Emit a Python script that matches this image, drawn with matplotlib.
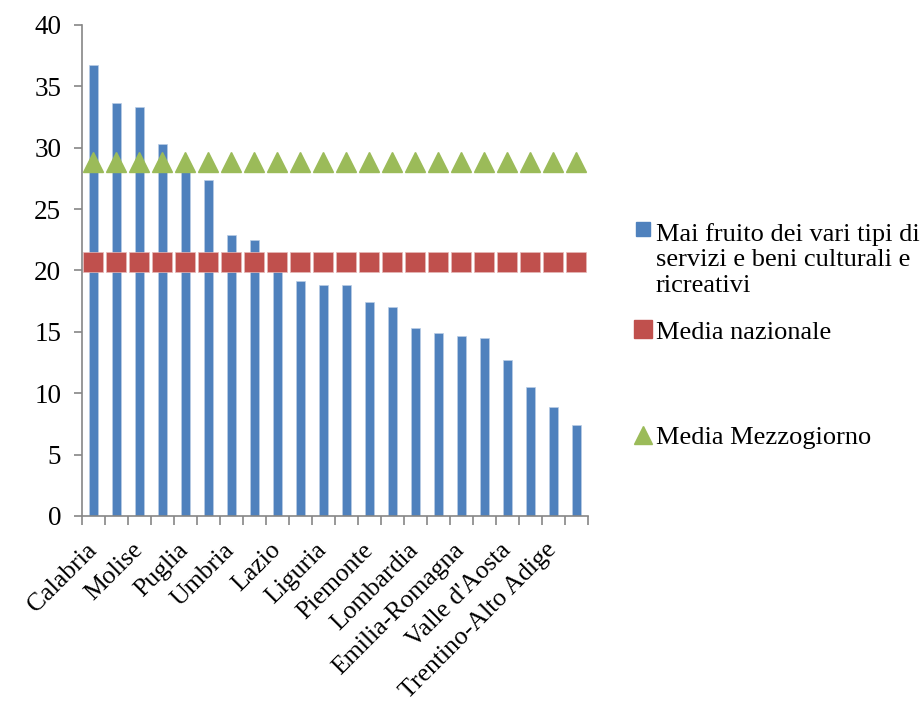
import numpy as np
import matplotlib.pyplot as plt
from matplotlib.lines import Line2D
from matplotlib.legend_handler import HandlerBase

plt.rcParams['font.family'] = ['Liberation Serif', 'DejaVu Serif']

# Regions sorted by share of people who never used cultural/recreational services
regioni = ['Calabria', 'Sicilia', 'Molise', 'Campania', 'Puglia', 'Basilicata',
           'Umbria', 'Sardegna', 'Lazio', 'Abruzzo', 'Liguria', 'Marche',
           'Piemonte', 'Toscana', 'Lombardia', 'Friuli-Venezia Giulia',
           'Emilia-Romagna', 'Veneto', "Valle d'Aosta", 'Bolzano',
           'Trentino-Alto Adige', 'Trento']
mai_fruito = [36.7, 33.6, 33.3, 30.3, 28.5, 27.4, 22.9, 22.5, 20.6, 19.1, 18.8,
              18.8, 17.4, 17.0, 15.3, 14.9, 14.7, 14.5, 12.7, 10.5, 8.9, 7.4]
media_nazionale = [20.7] * len(regioni)
media_mezzogiorno = [28.8] * len(regioni)

blu, rosso, verde = '#4F81BD', '#C0504D', '#9BBB59'
grigio = '#868686'
fs = 19.5


class TopLineHandler(HandlerBase):
    # puts the legend marker next to the first line of a multi-line label
    def __init__(self, shift):
        super().__init__()
        self.shift = shift

    def create_artists(self, legend, orig_handle, xdescent, ydescent,
                       width, height, fontsize, trans):
        m = Line2D([width / 2 - xdescent], [height / 2 - ydescent + self.shift],
                   linestyle='none', marker=orig_handle.get_marker(),
                   markersize=orig_handle.get_markersize(),
                   color=orig_handle.get_color(), transform=trans)
        return [m]


fig = plt.figure(figsize=(9.23, 7.02), dpi=100)
ax = fig.add_axes([0.0888, 0.265, 0.548, 0.6995])

x = np.arange(len(regioni))
ax.bar(x, mai_fruito, width=0.39, color=blu, edgecolor='#B9CDE5', linewidth=0.5, zorder=2)
ax.plot(x, media_nazionale, linestyle='none', marker='s', markersize=14.5,
        color=rosso, markeredgecolor='#E6B9B8', markeredgewidth=0.5, zorder=3)
ax.plot(x, media_mezzogiorno, linestyle='none', marker='^', markersize=15,
        color=verde, markeredgecolor=verde, zorder=4)

ax.set_xlim(-0.5, len(regioni) - 0.5)
ax.set_ylim(0, 40)
ax.set_yticks(np.arange(0, 41, 5))

# category labels on every other bar, tick marks at category boundaries
ax.set_xticks(x[::2])
ax.set_xticklabels(regioni[::2], rotation=45, ha='right', va='center',
                   rotation_mode='anchor')
ax.set_xticks(np.arange(-0.5, len(regioni)), minor=True)
ax.tick_params(axis='x', which='major', length=0, pad=22, labelsize=18.5)
ax.tick_params(axis='x', which='minor', length=6.5, color=grigio, width=1.2)
ax.tick_params(axis='y', length=6, color=grigio, width=1.2, labelsize=fs, pad=9)

for s in ['top', 'right']:
    ax.spines[s].set_visible(False)
for s in ['left', 'bottom']:
    ax.spines[s].set_color(grigio)
    ax.spines[s].set_linewidth(1.2)

# legend entries placed separately
h1 = Line2D([], [], linestyle='none', marker='s', markersize=9.5, color=blu)
h2 = Line2D([], [], linestyle='none', marker='s', markersize=12.5, color=rosso)
h3 = Line2D([], [], linestyle='none', marker='^', markersize=13, color=verde)
lab1 = 'Mai fruito dei vari tipi di\nservizi e beni culturali e\nricreativi'
kw = dict(frameon=False, fontsize=19, handlelength=0.8, handletextpad=0.1,
          borderpad=0, borderaxespad=0, loc='center left')
x_leg = 632 / 923
fig.legend([h1], [lab1], bbox_to_anchor=(x_leg, 1 - 260 / 702),
           handler_map={h1: TopLineHandler(21.6)}, **kw)
fig.legend([h2], ['Media nazionale'], bbox_to_anchor=(x_leg, 1 - 332 / 702), **kw)
fig.legend([h3], ['Media Mezzogiorno'], bbox_to_anchor=(x_leg, 1 - 437 / 702), **kw)

fig.savefig('out.png', dpi=100)
